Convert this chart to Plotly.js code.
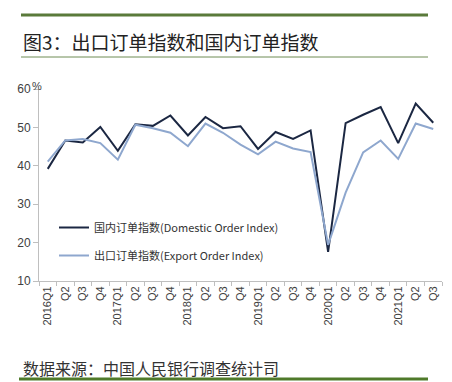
<!DOCTYPE html>
<html>
<head>
<meta charset="utf-8">
<script src="https://cdn.plot.ly/plotly-3.0.1.min.js"></script>
<style>
html,body{margin:0;padding:0;background:#fff;}
#chart{width:452px;height:382px;}
</style>
</head>
<body>
<div id="chart"></div>
<script>
// Quarter identifiers (categories) and their axis labels
const quarters = ["2016Q1","2016Q2","2016Q3","2016Q4","2017Q1","2017Q2","2017Q3","2017Q4",
  "2018Q1","2018Q2","2018Q3","2018Q4","2019Q1","2019Q2","2019Q3","2019Q4",
  "2020Q1","2020Q2","2020Q3","2020Q4","2021Q1","2021Q2","2021Q3"];
const tickLabels = ["2016Q1","Q2","Q3","Q4","2017Q1","Q2","Q3","Q4",
  "2018Q1","Q2","Q3","Q4","2019Q1","Q2","Q3","Q4",
  "2020Q1","Q2","Q3","Q4","2021Q1","Q2","Q3"];
// 国内订单指数 (Domestic Order Index)
const domestic = [39.2,46.6,46.1,50.1,43.9,50.8,50.4,53.1,47.9,52.7,49.8,50.3,
  44.4,48.8,47.0,49.2,17.6,51.1,53.3,55.3,45.9,56.2,51.2];
// 出口订单指数 (Export Order Index)
const exportIdx = [41.1,46.6,47.0,45.9,41.6,50.7,49.8,48.6,45.1,51.0,48.6,45.5,
  43.0,46.3,44.5,43.6,19.4,33.0,43.5,46.6,41.8,51.0,49.6];

const traces = [
  {x: quarters, y: domestic, type: 'scatter', mode: 'lines',
   name: '国内订单指数(Domestic Order Index)', legendgroup: 'a',
   line: {color: '#1B2742', width: 2}},
  {x: quarters, y: exportIdx, type: 'scatter', mode: 'lines',
   name: '出口订单指数(Export Order Index)', legendgroup: 'b',
   line: {color: '#8EA7CE', width: 2}}
];

const W = 403, H = 192, L = 39, T = 89;
const px = v => (v - L) / W;
const py = v => (T + H - v) / H;

const layout = {
  width: 452, height: 382,
  margin: {l: 39, r: 10, t: 89, b: 101},
  paper_bgcolor: '#fff', plot_bgcolor: '#fff',
  showlegend: true,
  font: {family: 'Liberation Sans, Arial, "Noto Sans CJK SC", sans-serif', color: '#404040'},
  legend: {x: px(54), y: py(213), xanchor: 'left', yanchor: 'top',
    bgcolor: 'rgba(0,0,0,0)', tracegroupgap: 9,
    font: {family: '"Noto Sans CJK SC", sans-serif', size: 11, color: '#333'}},
  xaxis: {type: 'category', categoryorder: 'array', categoryarray: quarters,
    tickmode: 'array', tickvals: quarters, ticktext: tickLabels,
    tickangle: -90, tickson: 'boundaries', ticks: 'outside', ticklen: 4,
    tickcolor: '#BFBFBF', showline: true, linecolor: '#BFBFBF', linewidth: 1,
    showgrid: false, zeroline: false,
    tickfont: {size: 11, color: '#404040', family: 'Liberation Sans, Arial, sans-serif'},
    range: [-0.5, 22.5], fixedrange: true},
  yaxis: {range: [10, 60], tickvals: [10,20,30,40,50,60], ticks: 'outside', ticklen: 5,
    tickcolor: '#BFBFBF', showline: true, linecolor: '#BFBFBF', linewidth: 1,
    showgrid: false, zeroline: false,
    tickfont: {size: 12, color: '#404040', family: 'Liberation Sans, Arial, sans-serif'},
    fixedrange: true},
  shapes: [
    {type: 'line', xref: 'paper', yref: 'paper', x0: px(21), x1: px(428), y0: py(15), y1: py(15),
     line: {color: '#5A7A3A', width: 3}},
    {type: 'line', xref: 'paper', yref: 'paper', x0: px(21), x1: px(428), y0: py(57), y1: py(57),
     line: {color: '#6E8C55', width: 1}},
    {type: 'line', xref: 'paper', yref: 'paper', x0: px(19), x1: px(428), y0: py(379), y1: py(379),
     line: {color: '#4F7A2A', width: 3}}
  ],
  annotations: [
    {text: '图3：出口订单指数和国内订单指数', xref: 'paper', yref: 'paper',
     x: px(21), y: py(41), xanchor: 'left', yanchor: 'middle', showarrow: false,
     font: {family: '"Noto Sans CJK SC", sans-serif', size: 19, color: '#222'}},
    {text: '数据来源：中国人民银行调查统计司', xref: 'paper', yref: 'paper',
     x: px(21), y: py(368), xanchor: 'left', yanchor: 'middle', showarrow: false,
     font: {family: '"Noto Sans CJK SC", sans-serif', size: 16, color: '#333'}},
    {text: '%', xref: 'paper', yref: 'paper', x: px(37), y: py(86),
     xanchor: 'center', yanchor: 'middle', showarrow: false,
     font: {size: 11, color: '#404040'}}
  ]
};

Plotly.newPlot('chart', traces, layout, {staticPlot: true, displayModeBar: false});
</script>
</body>
</html>
